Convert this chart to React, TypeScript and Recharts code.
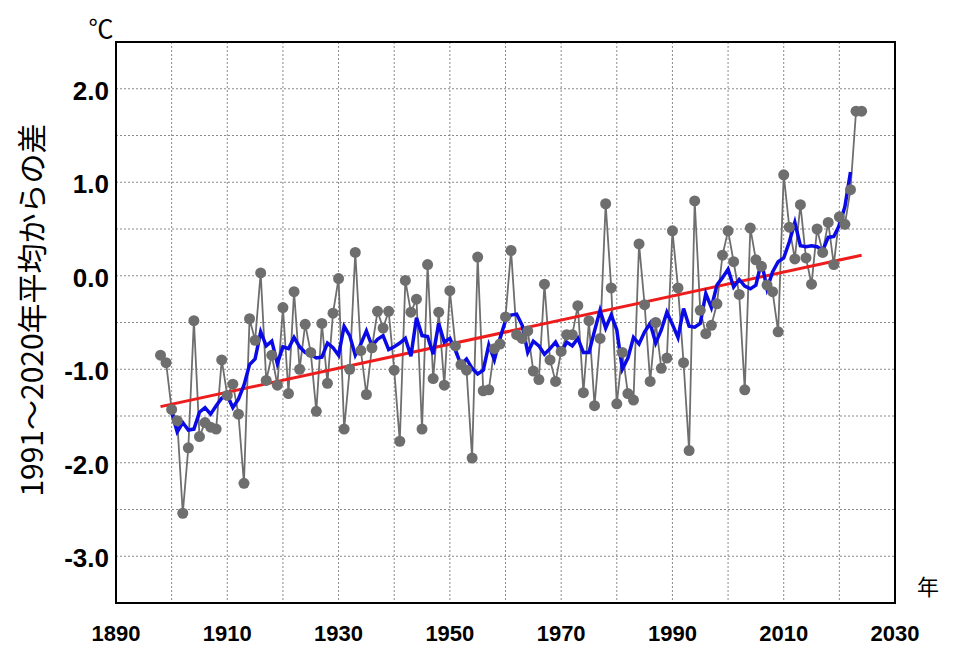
import { ComposedChart, Line, XAxis, YAxis, CartesianGrid } from "recharts";

// annual anomaly (°C, vs 1991-2020 mean), 1898 onwards
const firstYear = 1898;
const anomaly = [
  -0.85, -0.93, -1.43, -1.55, -2.54, -1.84, -0.48, -1.72, -1.57, -1.62,
  -1.64, -0.9, -1.28, -1.16, -1.48, -2.22, -0.46, -0.69, 0.03, -1.12,
  -0.85, -1.17, -0.34, -1.26, -0.17, -1.0, -0.52, -0.82, -1.45, -0.51,
  -1.15, -0.4, -0.03, -1.64, -1.0, 0.25, -0.8, -1.27, -0.77, -0.38,
  -0.56, -0.38, -1.01, -1.77, -0.05, -0.39, -0.25, -1.64, 0.12, -1.1,
  -0.39, -1.17, -0.16, -0.75, -0.95, -1.01, -1.95, 0.2, -1.23, -1.22,
  -0.78, -0.73, -0.44, 0.27, -0.63, -0.67, -0.59, -1.02, -1.11, -0.09,
  -0.9, -1.13, -0.81, -0.63, -0.63, -0.32, -1.25, -0.48, -1.39, -0.67,
  0.77, -0.13, -1.37, -0.82, -1.26, -1.33, 0.34, -0.31, -1.13, -0.5,
  -0.99, -0.88, 0.48, -0.13, -0.93, -1.87, 0.8, -0.37, -0.62, -0.53,
  -0.3, 0.22, 0.48, 0.15, -0.2, -1.22, 0.51, 0.17, 0.1, -0.1,
  -0.17, -0.6, 1.08, 0.52, 0.18, 0.76, 0.19, -0.09, 0.5, 0.25,
  0.57, 0.12, 0.63, 0.55, 0.92, 1.76, 1.76,
];

// 5-year running mean, 1900 onwards
const meanStart = 1900;
const runningMean = [
  -1.46, -1.67, -1.57, -1.65, -1.64, -1.46, -1.41, -1.48, -1.39, -1.31,
  -1.28, -1.41, -1.32, -1.17, -0.95, -0.89, -0.6, -0.75, -0.7, -0.94,
  -0.76, -0.78, -0.66, -0.76, -0.82, -0.84, -0.88, -0.87, -0.72, -0.77,
  -0.85, -0.54, -0.64, -0.85, -0.73, -0.59, -0.75, -0.68, -0.64, -0.79,
  -0.76, -0.72, -0.67, -0.86, -0.45, -0.64, -0.65, -0.84, -0.51, -0.71,
  -0.67, -0.8, -0.95, -0.89, -0.99, -1.05, -1.01, -0.74, -0.9, -0.67,
  -0.48, -0.42, -0.41, -0.53, -0.82, -0.7, -0.75, -0.84, -0.78, -0.71,
  -0.82, -0.71, -0.75, -0.67, -0.82, -0.82, -0.59, -0.37, -0.56, -0.42,
  -0.58, -1.0, -0.88, -0.66, -0.73, -0.6, -0.51, -0.72, -0.58, -0.39,
  -0.52, -0.66, -0.35, -0.54, -0.55, -0.51, -0.19, -0.34, -0.1, -0.02,
  0.07, -0.12, -0.04, -0.11, -0.14, -0.1, 0.15, -0.14, 0.04, 0.15,
  0.19, 0.36, 0.57, 0.32, 0.31, 0.32, 0.31, 0.27, 0.41, 0.42,
  0.54, 0.74, 1.11,
];

// long-term trend end points
const trendYears = [1898, 2024];
const trendValues = [-1.4, 0.22];

const xTicks = [1890, 1900, 1910, 1920, 1930, 1940, 1950, 1960, 1970, 1980, 1990, 2000, 2010, 2020, 2030];
const yTicks = [-3.5, -3, -2.5, -2, -1.5, -1, -0.5, 0, 0.5, 1, 1.5, 2, 2.5];

const yearData = anomaly.map((v, i) => ({ year: firstYear + i, value: v }));
const meanData = runningMean.map((v, i) => ({ year: meanStart + i, mean: v }));
const trendData = trendYears.map((y, i) => ({ year: y, trend: trendValues[i] }));

const W = 945;
const H = 650;
const PLOT_BOTTOM = 595;

const XTick = (props: any) => {
  const v = props.payload.value;
  if ((v - 1890) % 20 !== 0) return <g />;
  return (
    <text x={props.x} y={PLOT_BOTTOM + 38} textAnchor="middle" fontSize={22} fontWeight="bold"
      fontFamily="'Liberation Sans', Arial, sans-serif" fill="#000">
      {v}
    </text>
  );
};

const YTick = (props: any) => {
  const v = props.payload.value;
  if (!Number.isInteger(v) || v > 2 || v < -3) return <g />;
  return (
    <text x={101} y={props.y + 2} textAnchor="end" dominantBaseline="central" fontSize={26} fontWeight="bold"
      fontFamily="'Liberation Sans', Arial, sans-serif" fill="#000">
      {v.toFixed(1)}
    </text>
  );
};

export default function App() {
  return (
    <div style={{ position: "relative", width: W, height: H }}>
      <ComposedChart width={W} height={H} margin={{ top: 34, right: 58, bottom: 15, left: 0 }}>
        <CartesianGrid stroke="#8a8a8a" strokeDasharray="2 2" strokeWidth={1} />
        <XAxis dataKey="year" type="number" domain={[1890, 2030]} ticks={xTicks}
          allowDataOverflow height={40} tick={<XTick />} tickLine={false}
          axisLine={{ stroke: "#000", strokeWidth: 2 }} />
        <YAxis type="number" domain={[-3.5, 2.5]} ticks={yTicks} width={108}
          tick={<YTick />} tickLine={false} axisLine={{ stroke: "#000", strokeWidth: 2 }} />
        <Line data={yearData} dataKey="value" stroke="#6e6e6e" strokeWidth={1.8}
          dot={{ r: 5.5, fill: "#6e6e6e", stroke: "none" }} isAnimationActive={false} />
        <Line data={trendData} dataKey="trend" stroke="#ee1c1c" strokeWidth={3}
          dot={false} isAnimationActive={false} />
        <Line data={meanData} dataKey="mean" stroke="#0a0ae6" strokeWidth={3.5}
          dot={false} isAnimationActive={false} />
      </ComposedChart>
      <div style={{ position: "absolute", left: 107, top: 33, width: 781, height: 563, boxSizing: "border-box",
        border: "2px solid #000", pointerEvents: "none" }} />
      <div style={{ position: "absolute", left: 93, top: 19, transform: "translate(-50%,-50%)",
        fontFamily: "'Noto Sans CJK JP', sans-serif", fontSize: 25, lineHeight: 1 }}>℃</div>
      <div style={{ position: "absolute", left: 920, top: 577, transform: "translate(-50%,-50%)",
        fontFamily: "'Noto Sans CJK JP', sans-serif", fontSize: 22, lineHeight: 1 }}>年</div>
      <div style={{ position: "absolute", left: 22, top: 302, transform: "translate(-50%,-50%) rotate(-90deg)",
        whiteSpace: "nowrap", fontFamily: "'Noto Sans CJK JP', sans-serif", fontSize: 30, lineHeight: 1 }}>
        1991～2020年平均からの差
      </div>
    </div>
  );
}
